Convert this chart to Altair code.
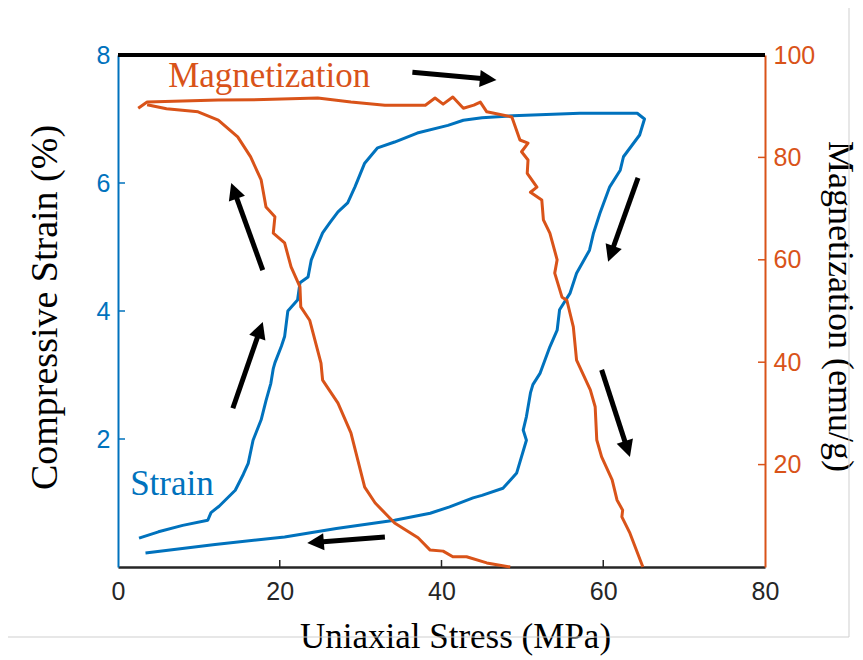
import math
import altair as alt
import pandas as pd

# ---------------- data ----------------
# strain loop (loading up the left side, unloading down the right side, back along bottom)
strain_stress = [2.6, 5.0, 8.0, 11.1, 11.5, 12.5, 14.5, 15.5, 16.1, 16.7, 17.7, 18.3, 18.9, 19.2, 19.4,
                 20.2, 20.6, 21.0, 22.2, 22.5, 23.5, 23.9, 25.3, 26.2, 27.2, 28.4, 29.3, 30.5, 32.1, 34.2,
                 37.0, 40.8, 42.7, 45.0, 48.8, 57.1, 64.2, 65.1, 64.5, 62.5, 62.1, 60.8, 59.6, 58.8, 58.3,
                 56.7, 55.9, 54.6, 54.3, 53.4, 52.2, 51.3, 51.0, 50.5, 50.1, 50.5, 49.3, 47.6, 45.0, 43.9,
                 41.0, 38.6, 34.2, 27.0, 20.6, 12.0, 3.4]
strain_vals = [0.45, 0.55, 0.65, 0.73, 0.85, 0.95, 1.20, 1.45, 1.62, 1.98, 2.30, 2.60, 2.87, 3.10, 3.19,
               3.45, 3.60, 4.00, 4.17, 4.44, 4.53, 4.80, 5.22, 5.38, 5.55, 5.69, 5.94, 6.31, 6.55, 6.64,
               6.78, 6.90, 6.98, 7.02, 7.05, 7.09, 7.09, 7.00, 6.75, 6.41, 6.20, 5.94, 5.53, 5.22, 4.95,
               4.59, 4.28, 4.02, 3.70, 3.44, 3.03, 2.85, 2.72, 2.35, 2.14, 1.98, 1.47, 1.23, 1.12, 1.08,
               0.94, 0.84, 0.73, 0.60, 0.47, 0.35, 0.22]

# magnetization: loading branch (top, then down the right) and unloading branch (bottom, up the left)
mag_load_stress = [2.5, 3.6, 8.0, 12.4, 18.0, 24.7, 28.8, 33.0, 38.0, 39.2, 40.2, 41.4, 42.7, 44.0, 44.8,
                   45.6, 48.7, 49.7, 50.7, 49.9, 50.7, 50.6, 51.8, 51.0, 52.4, 52.6, 53.4, 54.3, 54.0,
                   54.9, 55.5, 56.3, 56.7, 58.4, 59.0, 59.2, 59.8, 61.1, 61.7, 62.4, 62.3, 63.3, 64.9]
mag_load_vals = [89.6, 90.8, 91.0, 91.2, 91.3, 91.6, 90.8, 90.2, 90.2, 91.6, 90.4, 91.8, 89.6, 90.2, 90.8,
                 88.9, 87.9, 83.4, 82.8, 81.1, 79.5, 76.9, 74.2, 73.2, 71.7, 67.8, 65.2, 60.0, 57.4,
                 52.7, 52.1, 46.9, 40.4, 34.6, 31.3, 24.8, 21.5, 17.0, 13.1, 11.1, 9.8, 6.6, 0.0]
mag_unload_stress = [48.5, 45.6, 43.1, 41.4, 40.2, 38.6, 37.1, 34.2, 31.8, 30.5, 28.8, 27.2, 25.3, 25.1,
                     23.7, 22.6, 22.5, 21.4, 20.6, 19.2, 19.4, 18.3, 17.7, 16.4, 14.8, 12.4, 9.9, 6.0, 3.6]
mag_unload_vals = [0.0, 0.8, 2.0, 2.0, 3.1, 3.3, 5.7, 8.6, 12.5, 15.6, 26.2, 32.0, 36.5, 39.8,
                   48.2, 50.8, 54.7, 58.6, 63.3, 65.2, 68.4, 70.3, 75.6, 80.1, 84.0, 87.3, 88.9, 89.5, 90.3]

# direction arrows (tail -> head), in stress / strain units
arrow_x1 = [36.4, 64.3, 59.8, 33.0, 17.9, 14.2]
arrow_y1 = [7.73, 6.08, 3.08, 0.47, 4.64, 2.48]
arrow_x2 = [46.8, 60.6, 63.3, 23.4, 14.0, 17.9]
arrow_y2 = [7.61, 4.77, 1.72, 0.375, 6.0, 3.83]

# tick labels
x_ticks = [0, 20, 40, 60, 80]
strain_ticks = [2, 4, 6, 8]
mag_ticks = [20, 40, 60, 80, 100]

# ---------------- styling ----------------
W, H = 647, 512
XMAX, SMAX, MMAX = 80, 8, 100
BLUE = "#0072BD"
ORANGE = "#D95319"
DARK = "#262626"
SERIF = "Liberation Serif"
SANS = "Liberation Sans"

strain_df = pd.DataFrame({"stress": strain_stress, "strain": strain_vals,
                          "i": range(len(strain_vals))})
mag_df = pd.concat([
    pd.DataFrame({"stress": mag_load_stress, "mag": mag_load_vals, "branch": "load",
                  "i": range(len(mag_load_vals))}),
    pd.DataFrame({"stress": mag_unload_stress, "mag": mag_unload_vals, "branch": "unload",
                  "i": range(len(mag_unload_vals))}),
], ignore_index=True)

# arrows: shaft + rotated triangular head
px_x = W / XMAX
px_y = H / SMAX
head_r = 9.5
rows = []
for x1, y1, x2, y2 in zip(arrow_x1, arrow_y1, arrow_x2, arrow_y2):
    dx = (x2 - x1) * px_x
    dy = -(y2 - y1) * px_y
    L = math.hypot(dx, dy)
    ux, uy = dx / L, dy / L
    cx = x2 - ux * head_r / px_x
    cy = y2 + uy * head_r / px_y
    ang = math.degrees(math.atan2(ux, -uy)) % 360
    rows.append({"stress": x1, "strain": y1, "stress2": cx, "strain2": cy,
                 "hx": cx, "hy": cy, "ang": ang})
arrow_df = pd.DataFrame(rows)

xscale = alt.Scale(domain=[0, XMAX], nice=False, zero=False)
sscale = alt.Scale(domain=[0, SMAX], nice=False, zero=False)
mscale = alt.Scale(domain=[0, MMAX], nice=False, zero=False)

xaxis = alt.Axis(values=x_ticks, tickSize=0, grid=False, domainColor=DARK, domainWidth=2.5,
                 labelColor=DARK, labelFont=SANS, labelFontSize=25, labelPadding=12,
                 labelFlush=False, labelOverlap=False, format="d",
                 title="Uniaxial Stress (MPa)", titleFont=SERIF, titleFontSize=35,
                 titleFontWeight="normal", titleColor="black", titleX=337, titleY=80,
                 titleAlign="center", titleBaseline="alphabetic")
saxis = alt.Axis(values=strain_ticks, tickSize=0, grid=False, domainColor=BLUE, domainWidth=2,
                 labelColor=BLUE, labelFont=SANS, labelFontSize=25, labelPadding=8,
                 labelFlush=False, labelOverlap=False, format="d",
                 title="Compressive Strain (%)", titleFont=SERIF, titleFontSize=38,
                 titleFontWeight="normal", titleColor="black", titleAngle=270,
                 titleX=-62, titleY=H / 2 - 4, titleAlign="center", titleBaseline="alphabetic")
maxis = alt.Axis(orient="right", values=mag_ticks, tickSize=0, grid=False, domainColor=ORANGE,
                 domainWidth=2, labelColor=ORANGE, labelFont=SANS, labelFontSize=25,
                 labelPadding=8, labelFlush=False, labelOverlap=False, format="d",
                 title="Magnetization (emu/g)", titleFont=SERIF, titleFontSize=36,
                 titleFontWeight="normal", titleColor="black", titleAngle=90,
                 titleX=63, titleY=H / 2 - 5, titleAlign="center", titleBaseline="alphabetic")

X = alt.X("stress:Q", scale=xscale, axis=xaxis)
YS = alt.Y("strain:Q", scale=sscale, axis=saxis)
YM = alt.Y("mag:Q", scale=mscale, axis=maxis)

# --- strain group ---
strain_line = alt.Chart(strain_df).mark_line(color=BLUE, strokeWidth=3, strokeJoin="round").encode(
    x=X, y=YS, order="i:Q")

shafts = alt.Chart(arrow_df).mark_rule(color="black", strokeWidth=5).encode(
    x=X, y=YS, x2="stress2:Q", y2="strain2:Q")
heads = alt.Chart(arrow_df).mark_point(
    shape="M0,-1L0.9,0.75L-0.9,0.75Z", filled=True, color="black", opacity=1,
    size=(2 * head_r) ** 2, strokeWidth=0).encode(
    x=alt.X("hx:Q", scale=xscale, axis=xaxis), y=alt.Y("hy:Q", scale=sscale, axis=saxis),
    angle=alt.Angle("ang:Q", scale=None))

lab_df = pd.DataFrame({"stress": [6.2, 1.5], "strain": [7.5, 1.12],
                       "txt": ["Magnetization", "Strain"], "col": [ORANGE, BLUE]})
labels = alt.Chart(lab_df).mark_text(font=SERIF, fontSize=35, align="left",
                                     baseline="alphabetic").encode(
    x=X, y=YS, text="txt:N", color=alt.Color("col:N", scale=None))

left_ticks = alt.Chart(pd.DataFrame({"strain": strain_ticks[:-1]})).mark_rule(
    color=BLUE, strokeWidth=1.5).encode(y=YS, x=alt.value(0), x2=alt.value(7))
bottom_ticks = alt.Chart(pd.DataFrame({"stress": x_ticks[1:-1]})).mark_rule(
    color=DARK, strokeWidth=1.5).encode(x=X, y=alt.value(H), y2=alt.value(H - 7))
top_border = alt.Chart(pd.DataFrame({"k": [0]})).mark_rule(color="black", strokeWidth=4).encode(
    x=alt.value(0), x2=alt.value(W), y=alt.value(0))
frame_v = alt.Chart(pd.DataFrame({"k": [0]})).mark_rule(color="#cfcfcf", strokeWidth=1).encode(
    x=alt.value(731), y=alt.value(-47), y2=alt.value(582))
frame_h = alt.Chart(pd.DataFrame({"k": [0]})).mark_rule(color="#cfcfcf", strokeWidth=1).encode(
    x=alt.value(-110), x2=alt.value(731), y=alt.value(582))

strain_group = alt.layer(frame_v, frame_h, strain_line, left_ticks, bottom_ticks,
                         shafts, heads, labels)

# --- magnetization group ---
mag_line = alt.Chart(mag_df).mark_line(color=ORANGE, strokeWidth=3, strokeJoin="round").encode(
    x=X, y=YM, detail="branch:N", order="i:Q")
right_ticks = alt.Chart(pd.DataFrame({"mag": mag_ticks[:-1]})).mark_rule(
    color=ORANGE, strokeWidth=1.5).encode(y=YM, x=alt.value(W - 7), x2=alt.value(W))
mag_group = alt.layer(mag_line, right_ticks, top_border)

chart = alt.layer(strain_group, mag_group).resolve_scale(y="independent").properties(
    width=W, height=H,
    padding={"left": 118, "top": 55, "right": 98, "bottom": 93},
    autosize=alt.AutoSizeParams(type="none"),
    background="white",
).configure_view(stroke=None)

chart.save("out.html", embed_options={"renderer": "svg", "actions": False})
